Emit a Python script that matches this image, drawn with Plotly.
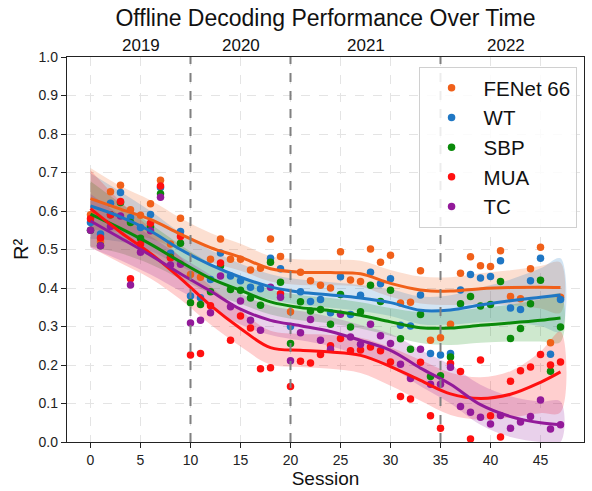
import plotly.graph_objects as go

sessions = list(range(48))

fenet = [0.59, 0.52, 0.65, 0.667, 0.603, 0.589, 0.619, 0.68, 0.514, 0.581,
         0.435, 0.428, 0.475, 0.527, 0.475, 0.475, 0.447, 0.451, 0.527, 0.482,
         0.338, 0.441, 0.419, 0.407, 0.400, 0.494, 0.421, 0.417, 0.501, 0.467,
         0.485, 0.361, 0.363, 0.445, 0.264, 0.271, 0.306, 0.438, 0.481, 0.458,
         0.456, 0.497, 0.378, 0.372, 0.450, 0.506, 0.258, 0.376]
wt = [0.57, 0.54, 0.62, 0.648, 0.583, 0.557, 0.591, 0.661, 0.49, 0.547,
      0.379, 0.375, 0.422, 0.491, 0.431, 0.419, 0.402, 0.398, 0.477, 0.450,
      0.300, 0.39, 0.365, 0.37, 0.336, 0.429, 0.331, 0.381, 0.441, 0.411,
      0.424, 0.303, 0.301, 0.382, 0.230, 0.226, 0.230, 0.395, 0.435, 0.426,
      0.430, 0.471, 0.348, 0.344, 0.419, 0.477, 0.228, 0.370]
sbp = [0.55, 0.51, 0.59, 0.622, 0.57, 0.529, 0.56, 0.645, 0.48, 0.516,
       0.362, 0.357, 0.39, 0.458, 0.396, 0.394, 0.374, 0.355, 0.467, 0.415,
       0.256, 0.364, 0.34, 0.344, 0.306, 0.383, 0.299, 0.338, 0.407, 0.365,
       0.394, 0.268, 0.241, 0.331, 0.170, 0.172, 0.221, 0.359, 0.378, 0.353,
       0.357, 0.417, 0.269, 0.295, 0.359, 0.420, 0.184, 0.299]
mua = [0.58, 0.53, 0.59, 0.625, 0.424, 0.514, 0.568, 0.665, 0.478, 0.534,
       0.226, 0.230, 0.354, 0.465, 0.264, 0.327, 0.296, 0.190, 0.193, 0.385,
       0.144, 0.210, 0.205, 0.227, 0.25, 0.269, 0.237, 0.239, 0.247, 0.237,
       0.208, 0.118, 0.112, 0.207, 0.068, 0.036, 0.204, 0.183, 0.008, 0.213,
       0.068, 0.013, 0.158, 0.185, 0.195, 0.227, 0.20, 0.208]
tc = [0.55, 0.51, 0.56, 0.587, 0.408, 0.493, 0.549, 0.636, 0.46, 0.462,
      0.309, 0.316, 0.336, 0.431, 0.351, 0.366, 0.316, 0.290, 0.402, 0.376,
      0.211, 0.284, 0.318, 0.264, 0.241, 0.332, 0.273, 0.254, 0.306, 0.276,
      0.256, 0.202, 0.165, 0.241, 0.15, 0.15, 0.194, 0.092, 0.077, 0.064,
      0.047, 0.069, 0.036, 0.052, 0.066, 0.109, 0.034, 0.045]

# fitted trend curves (read at knot sessions) and their confidence half-widths
fit_sessions = [0, 3, 6, 9, 12, 15, 18, 21, 24, 27, 30, 33, 36, 39, 42, 45, 47]
fenet_fit = [0.632, 0.605, 0.578, 0.540, 0.505, 0.480, 0.450, 0.441, 0.440, 0.437,
             0.412, 0.395, 0.392, 0.398, 0.401, 0.402, 0.401]
wt_fit = [0.613, 0.585, 0.548, 0.500, 0.460, 0.428, 0.403, 0.389, 0.382, 0.374,
          0.362, 0.342, 0.343, 0.356, 0.367, 0.376, 0.382]
sbp_fit = [0.592, 0.555, 0.514, 0.468, 0.425, 0.394, 0.364, 0.349, 0.341, 0.329,
           0.312, 0.297, 0.296, 0.303, 0.309, 0.316, 0.322]
mua_fit = [0.606, 0.545, 0.490, 0.425, 0.355, 0.295, 0.245, 0.238, 0.234, 0.225,
           0.196, 0.160, 0.125, 0.113, 0.124, 0.155, 0.182]
tc_fit = [0.574, 0.530, 0.485, 0.437, 0.392, 0.345, 0.316, 0.302, 0.287, 0.264,
          0.238, 0.192, 0.150, 0.097, 0.066, 0.050, 0.045]

fenet_ci = [0.08, 0.06, 0.05, 0.042, 0.038, 0.035, 0.033, 0.033, 0.033, 0.034,
            0.035, 0.035, 0.036, 0.04, 0.045, 0.055, 0.065]
wt_ci = [0.085, 0.065, 0.052, 0.044, 0.039, 0.035, 0.033, 0.033, 0.033, 0.034,
         0.035, 0.036, 0.038, 0.045, 0.055, 0.075, 0.095]
sbp_ci = [0.085, 0.065, 0.052, 0.044, 0.039, 0.035, 0.033, 0.033, 0.033, 0.034,
          0.036, 0.04, 0.044, 0.045, 0.048, 0.055, 0.062]
mua_ci = [0.10, 0.08, 0.065, 0.055, 0.05, 0.047, 0.044, 0.043, 0.044, 0.046,
          0.05, 0.053, 0.055, 0.055, 0.06, 0.08, 0.105]
tc_ci = [0.07, 0.058, 0.05, 0.045, 0.042, 0.04, 0.038, 0.038, 0.038, 0.04,
         0.043, 0.047, 0.05, 0.052, 0.053, 0.055, 0.06]

series_names = ["FENet 66", "WT", "SBP", "MUA", "TC"]
series_values = [fenet, wt, sbp, mua, tc]
series_fits = [fenet_fit, wt_fit, sbp_fit, mua_fit, tc_fit]
series_cis = [fenet_ci, wt_ci, sbp_ci, mua_ci, tc_ci]
colors = ["#f0601a", "#1f77c4", "#0a8a0a", "#ff1010", "#931a9a"]
fills = ["rgba(240,96,26,0.2)", "rgba(31,119,196,0.2)", "rgba(10,138,10,0.2)",
         "rgba(255,16,16,0.2)", "rgba(147,26,154,0.2)"]

year_labels = ["2019", "2020", "2021", "2022"]
year_centers = [5, 15, 27.5, 41.5]
year_boundaries = [10, 20, 35]

FONT = "Liberation Sans, Arial, sans-serif"
fig = go.Figure()

for name, fit, ci, fc in zip(series_names, series_fits, series_cis, fills):
    upper = [f + c for f, c in zip(fit, ci)]
    lower = [max(f - c, 0.0) for f, c in zip(fit, ci)]
    fig.add_trace(go.Scatter(
        x=fit_sessions + fit_sessions[::-1], y=upper + lower[::-1],
        fill="toself", fillcolor=fc, mode="lines",
        line=dict(width=0, shape="spline"), hoverinfo="skip", showlegend=False))

for name, vals, col in zip(series_names, series_values, colors):
    fig.add_trace(go.Scatter(
        x=sessions, y=vals, mode="markers", name=name, legendgroup=name,
        marker=dict(size=7.5, color=col)))

for name, fit, col in zip(series_names, series_fits, colors):
    fig.add_trace(go.Scatter(
        x=fit_sessions, y=fit, mode="lines", line=dict(color=col, width=3, shape="spline"),
        hoverinfo="skip", showlegend=False))

for b in year_boundaries:
    fig.add_shape(type="line", x0=b, x1=b, y0=0, y1=1, xref="x", yref="paper",
                  line=dict(color="#808080", width=2, dash="dash"), layer="above")

for lbl, xc in zip(year_labels, year_centers):
    fig.add_annotation(x=xc, y=1, xref="x", yref="paper", text=lbl, showarrow=False,
                       yanchor="bottom", yshift=0, font=dict(size=17, color="#111", family=FONT))

axis_common = dict(showline=True, linecolor="#222", linewidth=1.3, mirror=True,
                   ticks="outside", ticklen=5, tickcolor="#222", showgrid=True,
                   gridcolor="#e4e4e4", griddash="dash", gridwidth=1, zeroline=False,
                   tickfont=dict(size=14, color="#222", family=FONT))

fig.update_layout(
    width=592, height=491,
    margin=dict(l=67, r=7, t=57, b=47),
    paper_bgcolor="white", plot_bgcolor="white",
    font=dict(family=FONT, color="#111"),
    title=dict(text="Offline Decoding Performance Over Time", x=0.5, xref="paper",
               xanchor="center", y=0.963, yref="container", yanchor="middle",
               font=dict(size=23, family=FONT, color="#111")),
    xaxis=dict(range=[-2.35, 49.35], tickvals=list(range(0, 50, 5)),
               title=dict(text="Session", font=dict(size=19), standoff=3), **axis_common),
    yaxis=dict(range=[0, 1], dtick=0.1, tickformat=".1f",
               title=dict(text="R²", font=dict(size=20), standoff=4), **axis_common),
    legend=dict(x=0.68, y=0.974, xanchor="left", yanchor="top",
                bgcolor="rgba(255,255,255,0.85)", bordercolor="#d0d0d0", borderwidth=1,
                font=dict(size=20.5, color="#111", family=FONT), tracegroupgap=0,
                itemwidth=54),
    showlegend=True,
)

fig.write_html("out.html", config={"displayModeBar": False},
               post_script="document.body.style.margin='0';document.body.style.overflow='hidden';")
